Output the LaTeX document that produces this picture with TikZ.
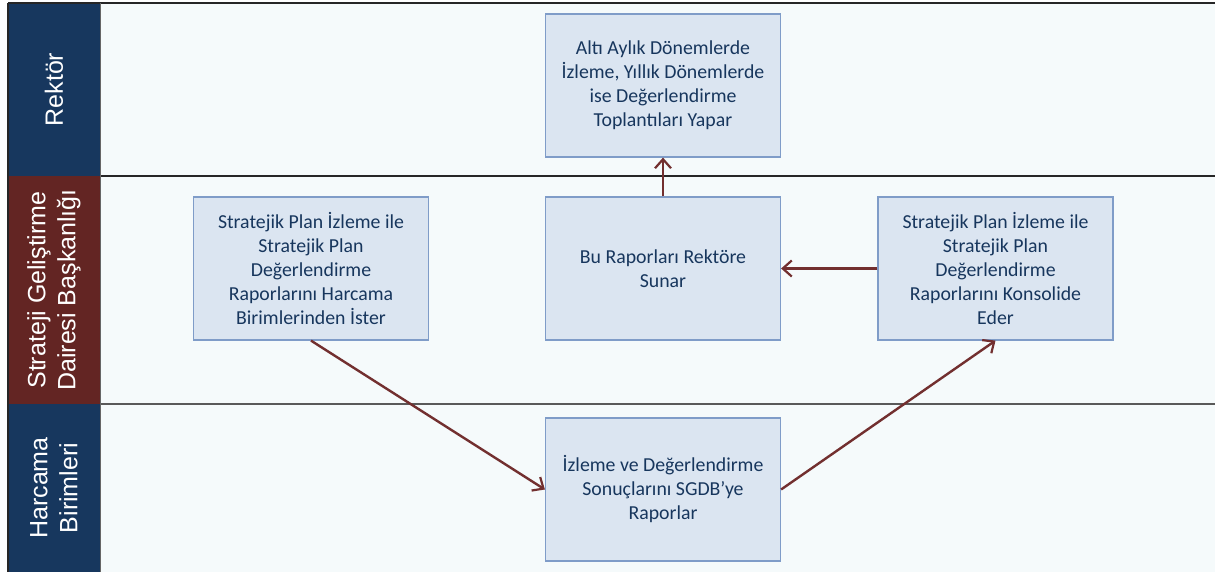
\documentclass[tikz,border=0pt]{standalone}
\usepackage{fontspec}
\setmainfont{Carlito}
\newfontfamily\arialf{Liberation Sans}
\usetikzlibrary{arrows.meta}
\definecolor{lanebg}{HTML}{F5FAFB}
\definecolor{navy}{HTML}{17375E}
\definecolor{maroon}{HTML}{632523}
\definecolor{boxfill}{HTML}{DBE5F1}
\definecolor{boxline}{HTML}{7F9CC8}
\definecolor{boxtext}{HTML}{17365D}
\definecolor{flowcol}{HTML}{722F2F}
\begin{document}
\begin{tikzpicture}[x=1pt,y=-1pt,
  box/.style={draw=boxline, fill=boxfill, line width=1.2pt, minimum width=235pt, minimum height=143pt,
    text=boxtext, font=\fontsize{19.8}{24}\selectfont, align=center, inner sep=0pt},
  lanelabel/.style={text=white, font=\arialf\fontsize{25}{30}\selectfont, align=center, rotate=90, inner sep=0pt},
  flow/.style={draw=flowcol, line width=2.4pt, -{Straight Barb[length=9pt,width=16pt,line width=2.2pt]}}]
\useasboundingbox (0,0) rectangle (1215,572);
% lane background
\fill[lanebg] (100,3) rectangle (1215,572);
% label columns
\fill[navy] (8,3) rectangle (100,176);
\fill[maroon] (8,176) rectangle (100,404);
\fill[navy] (8,404) rectangle (100,572);
% lines
\draw[line width=1.5pt, black!85] (8,3) -- (1215,3);
\draw[line width=1.5pt, black!85] (8,3) -- (8,572);
\draw[line width=1.5pt, black!85] (100,176) -- (1215,176);
\draw[line width=2pt, black!65] (100,404) -- (1215,404);
\draw[line width=1pt, black!60] (100,3) -- (100,572);
% lane labels
\node[lanelabel] (lr) at (54,89.5) {Rektör};
\node[lanelabel] (ls) at (54,290) {Strateji Geliştirme\\Dairesi Başkanlığı};
\node[lanelabel] (lh) at (54,488) {Harcama\\Birimleri};
% boxes
\node[box] (top) at (663,85.5) {Altı Aylık Dönemlerde\\İzleme, Yıllık Dönemlerde\\ise Değerlendirme\\Toplantıları Yapar};
\node[box] (left) at (311,268.5) {Stratejik Plan İzleme ile\\Stratejik Plan\\Değerlendirme\\Raporlarını Harcama\\Birimlerinden İster};
\node[box] (mid) at (663,268.5) {Bu Raporları Rektöre\\Sunar};
\node[box] (right) at (995.5,268.5) {Stratejik Plan İzleme ile\\Stratejik Plan\\Değerlendirme\\Raporlarını Konsolide\\Eder};
\node[box] (bot) at (663,489.5) {İzleme ve Değerlendirme\\Sonuçlarını SGDB’ye\\Raporlar};
% connectors
\draw[flow] (left.south) -- (bot.west);
\draw[flow] (bot.east) -- (right.south);
\draw[flow] (right.west) -- (mid.east);
\draw[flow] (mid.north) -- (top.south);
\end{tikzpicture}
\end{document}
